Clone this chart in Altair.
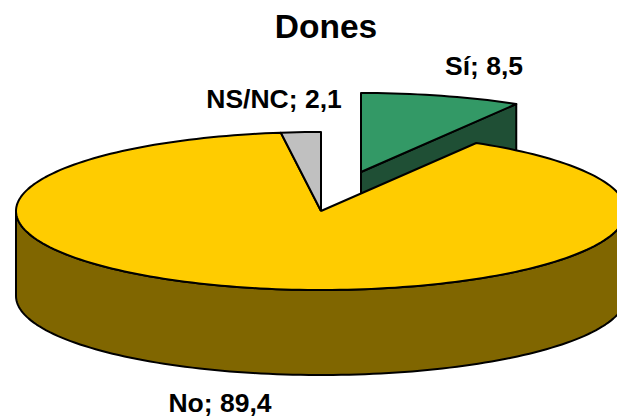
import numpy as np
import pandas as pd
import altair as alt

categories = ["Sí", "No", "NS/NC"]
shares = [8.5, 89.4, 2.1]
labels = ["Sí; 8,5", "No; 89,4", "NS/NC; 2,1"]
top_colors = ["#339966", "#FFCC00", "#C0C0C0"]
wall_colors = ["#1F4F35", "#806600", "#606060"]
chart_title = "Dones"

W, H = 609, 409
CX, CY, RX, RY, DEPTH = 313, 203, 305, 79, 85   # pie placement in chart pixels
EXPLODE = (40, 39)                               # Sí slice pulled out (right, up)
FONT = "Liberation Sans"

xdom = [-CX / RX, (W - CX) / RX]
ydom = [(CY - H) / RY, CY / RY]
d = DEPTH / RY
ex, ey = EXPLODE[0] / RX, EXPLODE[1] / RY

edges = np.concatenate([[0], np.cumsum(shares)]) / 100 * 2 * np.pi


def arc(a0, a1, step=np.radians(1.5)):
    n = max(2, int(abs(a1 - a0) / step) + 1)
    t = np.linspace(a0, a1, n)
    return np.sin(t), np.cos(t)


def poly(xs, ys):
    xs = np.append(xs, xs[0])
    ys = np.append(ys, ys[0])
    return pd.DataFrame({"x": xs, "y": ys, "o": np.arange(len(xs))})


def draw(df, color):
    return alt.Chart(df).mark_line(
        fill=color, stroke="black", strokeWidth=2, strokeJoin="round", clip=False
    ).encode(
        x=alt.X("x:Q", scale=alt.Scale(domain=xdom), axis=None),
        y=alt.Y("y:Q", scale=alt.Scale(domain=ydom), axis=None),
        order="o:Q",
    )


layers = []

# outer wall of the "No" slice (front half of the rim)
wx, wy = arc(np.pi / 2, 3 * np.pi / 2)
layers.append(draw(poly(np.r_[wx, wx[::-1]], np.r_[wy, wy[::-1] - d]), wall_colors[1]))

# cut face of the exploded "Sí" slice
e = edges[1]
sx, sy = np.sin(e) + ex, np.cos(e) + ey
layers.append(draw(poly(np.array([ex, sx, sx, ex]),
                        np.array([ey, sy, sy - d, ey - d])), wall_colors[0]))

# top faces
nx, ny = arc(edges[1], edges[2])
layers.append(draw(poly(np.r_[0, nx], np.r_[0, ny]), top_colors[1]))
gx, gy = arc(edges[2], edges[3])
layers.append(draw(poly(np.r_[0, gx], np.r_[0, gy]), top_colors[2]))
tx, ty = arc(edges[0], edges[1])
layers.append(draw(poly(np.r_[ex, tx + ex], np.r_[ey, ty + ey]), top_colors[0]))

# slice labels
label_pos = {"Sí; 8,5": (476, 67), "No; 89,4": (212, 404), "NS/NC; 2,1": (266, 100)}
for lab in labels:
    px, py = label_pos[lab]
    layers.append(
        alt.Chart(pd.DataFrame({"t": [lab]})).mark_text(
            font=FONT, fontSize=26.5, fontWeight="bold", color="black",
            align="center", baseline="alphabetic", clip=False,
        ).encode(x=alt.value(px), y=alt.value(py), text="t:N")
    )

chart = alt.layer(*layers).properties(
    width=W, height=H,
    padding=0,
    autosize=alt.AutoSizeParams(type="none"),
    background="white",
    title=alt.TitleParams(
        chart_title, font=FONT, fontSize=33.5, fontWeight="bold", color="black",
        anchor="middle", dx=13.5, offset=-37,
    ),
).configure_view(stroke=None)

chart.save("out.html", embed_options={"renderer": "svg", "actions": False})
